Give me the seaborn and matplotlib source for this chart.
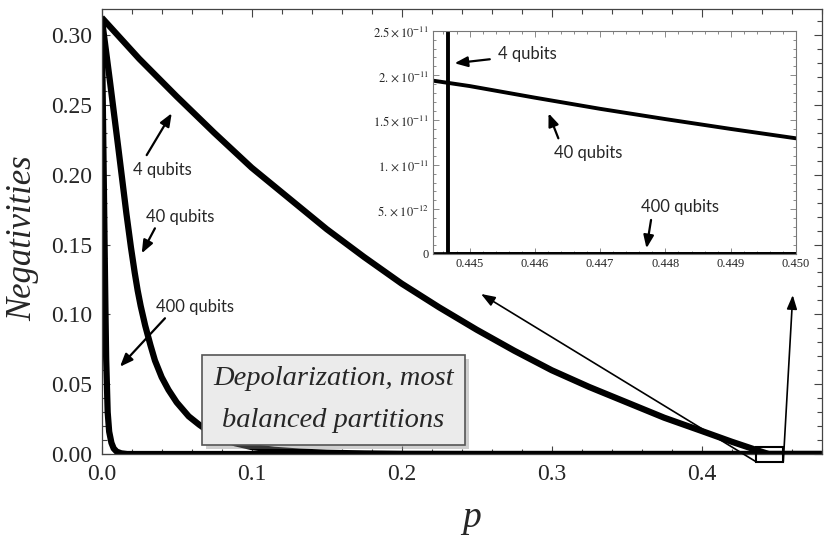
import numpy as np
import pandas as pd
import seaborn as sns
import matplotlib as mpl
import matplotlib.pyplot as plt
import matplotlib.patheffects as pe
from matplotlib.patches import Rectangle
from matplotlib.ticker import MultipleLocator, FixedLocator, FixedFormatter

# values
p4 = [0, 0.025, 0.05, 0.075, 0.10, 0.125, 0.15, 0.175, 0.20, 0.225, 0.25, 0.275,
      0.30, 0.325, 0.35, 0.375, 0.40, 0.42, 0.44, 0.44467, 0.46, 0.48]
n4 = [0.3125, 0.283, 0.256, 0.230, 0.205, 0.183, 0.161, 0.141, 0.122, 0.105, 0.089, 0.074,
      0.060, 0.048, 0.037, 0.026, 0.0165, 0.0088, 0.0016, 0, 0, 0]

p40 = [0, 0.0055, 0.011, 0.0165, 0.0195, 0.022, 0.024, 0.026, 0.029, 0.0325, 0.0355,
       0.04, 0.0445, 0.05, 0.058, 0.065, 0.073, 0.08, 0.089, 0.10, 0.115, 0.132, 0.15,
       0.175, 0.20, 0.25, 0.48]
n40 = [0.3125, 0.267, 0.220, 0.172, 0.148, 0.130, 0.117, 0.106, 0.092, 0.078, 0.067,
       0.055, 0.046, 0.037, 0.027, 0.021, 0.015, 0.0115, 0.0077, 0.005, 0.003, 0.0017, 0.0009,
       0.0004, 0.0001, 0, 0]

p400 = [0, 0.0005, 0.001, 0.0015, 0.002, 0.0025, 0.003, 0.004, 0.005, 0.0065, 0.008,
        0.01, 0.013, 0.017, 0.48]
n400 = [0.3125, 0.272, 0.230, 0.188, 0.145, 0.104, 0.068, 0.030, 0.016, 0.008, 0.004,
        0.0017, 0.0005, 0, 0]

# zoomed 40-qubit values near p = 0.445
p40_zoom = [0.444444, 0.445, 0.446, 0.447, 0.448, 0.449, 0.450]
n40_zoom = [1.94e-11, 1.88e-11, 1.75e-11, 1.625e-11, 1.51e-11, 1.40e-11, 1.295e-11]

inset_yticks = [0, 5e-12, 1e-11, 1.5e-11, 2e-11, 2.5e-11]
inset_ylabels = ['0', r'$5.\times10^{-12}$', r'$1.\times10^{-11}$', r'$1.5\times10^{-11}$',
                 r'$2.\times10^{-11}$', r'$2.5\times10^{-11}$']
inset_xticks = [0.445, 0.446, 0.447, 0.448, 0.449, 0.450]
inset_xlabels = ['0.445', '0.446', '0.447', '0.448', '0.449', '0.450']

sns.set_theme(style='ticks')
mpl.rcParams['font.family'] = 'serif'
mpl.rcParams['font.serif'] = ['Liberation Serif', 'DejaVu Serif']
mpl.rcParams['mathtext.fontset'] = 'stix'

label_font = ['Lato', 'DejaVu Sans']
frame_col = '#444444'

fig = plt.figure(figsize=(8.3, 5.38), dpi=100)
ax = fig.add_axes([0.1225, 0.1561, 0.8675, 0.8266])

for px, ny in [(p4, n4), (p40, n40), (p400, n400)]:
    sns.lineplot(x=px, y=ny, ax=ax, color='black', lw=4.5, sort=False,
                 estimator=None, solid_capstyle='butt', solid_joinstyle='round')

ax.set_xlim(0, 0.48)
ax.set_ylim(0, 0.3184)
ax.xaxis.set_major_locator(MultipleLocator(0.1))
ax.xaxis.set_minor_locator(MultipleLocator(0.02))
ax.yaxis.set_major_locator(MultipleLocator(0.05))
ax.yaxis.set_minor_locator(MultipleLocator(0.01))
ax.xaxis.set_major_formatter(mpl.ticker.FormatStrFormatter('%.1f'))
ax.yaxis.set_major_formatter(mpl.ticker.FormatStrFormatter('%.2f'))
ax.tick_params(which='both', direction='in', top=True, right=True,
               color=frame_col, labelsize=17, width=0.8)
ax.tick_params(which='major', length=6, pad=7)
ax.tick_params(which='minor', length=3.5)
for s in ax.spines.values():
    s.set_color(frame_col)
    s.set_linewidth(0.9)

ax.set_ylabel('Negativities', fontsize=25, style='italic')
ax.yaxis.set_label_coords(-0.087, 0.485)
ax.set_xlabel('p', fontsize=27, style='italic')
ax.xaxis.set_label_coords(0.514, -0.105)

# labels with arrows in the main panel
arrow_kw = dict(arrowstyle='-|>,head_length=0.55,head_width=0.22', color='black',
                lw=1.6, shrinkA=0, shrinkB=0, mutation_scale=14)
ax.text(0.0405, 0.2033, '4 qubits', ha='center', va='center', fontsize=12, family=label_font)
ax.annotate('', xy=(0.0467, 0.244), xytext=(0.030, 0.214), arrowprops=arrow_kw)
ax.text(0.0522, 0.1699, '40 qubits', ha='center', va='center', fontsize=12, family=label_font)
ax.annotate('', xy=(0.0267, 0.1437), xytext=(0.0355, 0.1616), arrowprops=arrow_kw)
ax.text(0.0622, 0.1052, '400 qubits', ha='center', va='center', fontsize=12, family=label_font)
ax.annotate('', xy=(0.0122, 0.0625), xytext=(0.0422, 0.0972), arrowprops=arrow_kw)

# caption box
txt = ax.text(0.1545, 0.0389, 'Depolarization, most\nbalanced partitions', ha='center', va='center',
              fontsize=20.5, style='italic', linespacing=1.9, multialignment='center',
              bbox=dict(boxstyle='square,pad=0.4', fc='#ebebeb', ec='#555555', lw=1.2))
txt.get_bbox_patch().set_path_effects([pe.SimplePatchShadow(offset=(3, -3), shadow_rgbFace='#888888', alpha=0.4),
                                       pe.Normal()])

# zoom rectangle and pointers
ax.add_patch(Rectangle((0.4362, -0.0055), 0.0182, 0.0107, fill=False, ec='black', lw=1.5, clip_on=False, zorder=5))
thin_kw = dict(arrowstyle='-|>,head_length=0.6,head_width=0.22', color='black', lw=1.2,
               shrinkA=0, shrinkB=0, mutation_scale=14)
ax.annotate('', xy=(0.2529, 0.1146), xytext=(0.4362, -0.0055), arrowprops=thin_kw, annotation_clip=False)
ax.annotate('', xy=(0.4607, 0.1138), xytext=(0.4544, -0.0055), arrowprops=thin_kw, annotation_clip=False)

# inset
ins = fig.add_axes([0.5220, 0.5279, 0.4370, 0.4151])
ins.set_facecolor('white')
sns.lineplot(x=p4, y=n4, ax=ins, color='black', lw=2.8, sort=False, estimator=None)
sns.lineplot(x=p40_zoom, y=n40_zoom, ax=ins, color='black', lw=2.8, sort=False, estimator=None)
sns.lineplot(x=p400, y=n400, ax=ins, color='black', lw=3.4, sort=False, estimator=None)
ins.set_xlim(0.444444, 0.450)
ins.set_ylim(0, 2.5e-11)
ins.xaxis.set_major_locator(FixedLocator(inset_xticks))
ins.xaxis.set_major_formatter(FixedFormatter(inset_xlabels))
ins.xaxis.set_minor_locator(MultipleLocator(0.0002))
ins.yaxis.set_major_locator(FixedLocator(inset_yticks))
ins.yaxis.set_major_formatter(FixedFormatter(inset_ylabels))
ins.yaxis.set_minor_locator(MultipleLocator(1e-12))
ins.tick_params(which='both', direction='in', top=True, right=True, color='#777777',
                labelsize=9, width=0.6, pad=3)
ins.tick_params(which='major', length=4)
ins.tick_params(which='minor', length=2)
for s in ins.spines.values():
    s.set_color('#777777')
    s.set_linewidth(0.8)

ins.text(0.44544, 2.24e-11, '4 qubits', ha='left', va='center', fontsize=12, family=label_font)
ins.annotate('', xy=(0.44477, 2.135e-11), xytext=(0.44531, 2.18e-11), arrowprops=arrow_kw)
ins.text(0.44681, 1.136e-11, '40 qubits', ha='center', va='center', fontsize=12, family=label_font)
ins.annotate('', xy=(0.44621, 1.575e-11), xytext=(0.44636, 1.295e-11), arrowprops=arrow_kw)
ins.text(0.44823, 0.53e-11, '400 qubits', ha='center', va='center', fontsize=12, family=label_font)
ins.annotate('', xy=(0.44771, 0.064e-11), xytext=(0.44778, 0.381e-11), arrowprops=arrow_kw)

fig.savefig('out.png', dpi=100)
